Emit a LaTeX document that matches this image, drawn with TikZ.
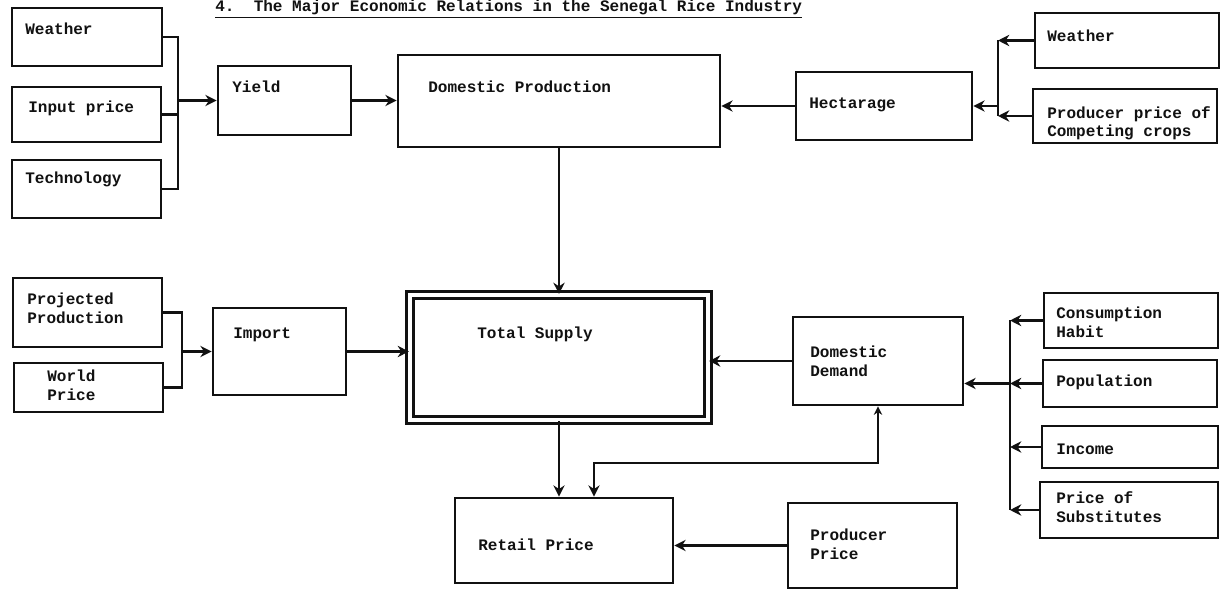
\documentclass[tikz,border=0pt]{standalone}
\usepackage{fontspec}
\setmonofont{Liberation Mono}
\usepackage{tikz}
\usetikzlibrary{positioning,arrows.meta,fit,calc}
\definecolor{ecInk}{HTML}{111111}
\definecolor{ecWhite}{HTML}{FFFFFF}
\tikzset{
  ec-box/.style={
    draw=ecInk, line width=2pt, inner sep=0pt, fill=ecWhite
  },
  ec-double/.style={ec-box, line width=1.5pt, double=ecWhite,
    double distance=3.5pt},
  ec-text/.style={font=\fontsize{11.4}{13.4}\selectfont\ttfamily\bfseries,
    text=ecInk, align=left, inner sep=0pt, anchor=base west},
  ec-line/.style={line width=1.6pt, draw=ecInk},
  ec-flow/.style={ec-line, -{Stealth[length=8pt,width=8pt]}},
  ec-flow-both/.style={ec-line, {Stealth[length=6pt,width=6pt]}-{Stealth[length=8pt,width=8pt]}}
}
\begin{document}
\begin{tikzpicture}[x=0.025cm, y=-0.025cm]
\useasboundingbox (0,0) rectangle (1223,590);
% Title
\node[ec-text] (title) at (215,12)
  {\underline{4.\ \ The Major Economic Relations in the Senegal Rice Industry}};
% Boxes
\node[ec-box, fit={(12,8) (162,66)}] (wL) {};
\node[ec-box, fit={(12,87) (161,142)}] (ipL) {};
\node[ec-box, fit={(12,160) (161,218)}] (tech) {};
\node[ec-box, fit={(218,66) (351,135)}] (yield) {};
\node[ec-box, fit={(398,55) (720,147)}] (dprod) {};
\node[ec-box, fit={(796,72) (972,140)}] (hect) {};
\node[ec-box, fit={(1035,13) (1219,68)}] (wR) {};
\node[ec-box, fit={(1033,89) (1217,143)}] (pcc) {};
\node[ec-box, fit={(13,278) (162,347)}] (proj) {};
\node[ec-box, fit={(14,363) (163,412)}] (world) {};
\node[ec-box, fit={(213,308) (346,395)}] (import) {};
\node[ec-double, fit={(410,295) (708,420)}] (tsup) {};
\node[ec-box, fit={(793,317) (963,405)}] (ddem) {};
\node[ec-box, fit={(1044,293) (1218,348)}] (cons) {};
\node[ec-box, fit={(1043,360) (1217,407)}] (pop) {};
\node[ec-box, fit={(1042,426) (1218,468)}] (inc) {};
\node[ec-box, fit={(1040,482) (1218,538)}] (subs) {};
\node[ec-box, fit={(788,503) (957,588)}] (prodp) {};
\node[ec-box, fit={(455,498) (673,583)}] (retail) {};
% Texts (base = last line)
\node[ec-text] (t-wL) at (25,35) {Weather};
\node[ec-text] (t-ipL) at (28,113) {Input price};
\node[ec-text] (t-tech) at (25,184) {Technology};
\node[ec-text] (t-yield) at (232,93) {Yield};
\node[ec-text] (t-dprod) at (428,93) {Domestic Production};
\node[ec-text] (t-hect) at (809,109) {Hectarage};
\node[ec-text] (t-wR) at (1047,42) {Weather};
\node[ec-text] (t-pcc) at (1047,137) {Producer price of\\Competing crops};
\node[ec-text] (t-proj) at (27,323) {Projected\\Production};
\node[ec-text] (t-world) at (47,400) {World\\Price};
\node[ec-text] (t-import) at (233,338) {Import};
\node[ec-text] (t-tsup) at (477,338) {Total Supply};
\node[ec-text] (t-ddem) at (810,376) {Domestic\\Demand};
\node[ec-text] (t-cons) at (1056,337) {Consumption\\Habit};
\node[ec-text] (t-pop) at (1056,386) {Population};
\node[ec-text] (t-inc) at (1056,454) {Income};
\node[ec-text] (t-subs) at (1056,522) {Price of\\Substitutes};
\node[ec-text] (t-prodp) at (810,559) {Producer\\Price};
\node[ec-text] (t-retail) at (478,550) {Retail Price};
% Bus lines
\coordinate (busL) at (178,0);
\coordinate (busM) at (182,0);
\coordinate (busR) at (998,0);
\coordinate (busD) at (1010,0);
\coordinate (bend) at (594,463);
% Supply side
\draw[ec-line] (wL.east) -| (busL |- tech.east) -- (tech.east);
\draw[ec-line] (ipL.east) -- (ipL.east -| busL);
\draw[ec-flow] (yield.west -| busL) -- (yield.west);
\draw[ec-flow] (yield.east) -- (yield.east -| dprod.west);
\draw[ec-line] (busR |- wR.west) -- (busR |- pcc.west);
\draw[ec-flow] (wR.west) -- (wR.west -| busR);
\draw[ec-flow] (pcc.west) -- (pcc.west -| busR);
\draw[ec-flow] (hect.east -| busR) -- (hect.east);
\draw[ec-flow] (hect.west) -- (hect.west -| dprod.east);
\draw[ec-flow] (dprod.south) -- (tsup.north);
\draw[ec-line] (proj.east) -| (busM |- world.east) -- (world.east);
\draw[ec-flow] (import.west -| busM) -- (import.west);
\draw[ec-flow] (import.east) -- (import.east -| tsup.west);
% Demand side
\draw[ec-line] (busD |- cons.west) -- (busD |- subs.west);
\foreach \n in {cons,pop,inc,subs}{
  \draw[ec-flow] (\n.west) -- (\n.west -| busD);
}
\draw[ec-flow] (pop.west -| busD) -- (pop.west -| ddem.east);
\draw[ec-flow] (ddem.west) -- (ddem.west -| tsup.east);
% Prices
\draw[ec-flow] (tsup.south) -- (tsup.south |- retail.north);
\draw[ec-flow-both] (ddem.south) |- (bend) -- (bend |- retail.north);
\draw[ec-flow] (prodp.west) -- (prodp.west -| retail.east);
\end{tikzpicture}
\end{document}
